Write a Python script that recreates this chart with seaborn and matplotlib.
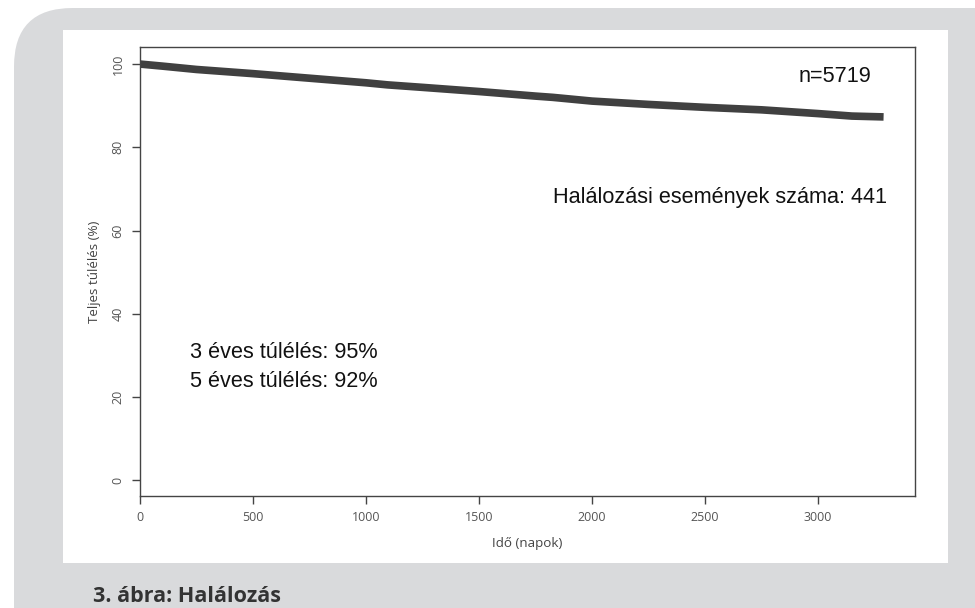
import numpy as np
import pandas as pd
import seaborn as sns
from matplotlib import pyplot as plt
from matplotlib.patches import FancyBboxPatch, Rectangle

# survival curve (days, overall survival %)
days = [0, 100, 250, 500, 750, 1000, 1095, 1250, 1500, 1750, 1826,
        2000, 2250, 2500, 2750, 3000, 3150, 3290]
surv = [100.0, 99.5, 98.7, 97.7, 96.6, 95.5, 95.0, 94.4, 93.4, 92.3, 92.0,
        91.1, 90.3, 89.6, 89.0, 88.1, 87.5, 87.3]
x_ticks = [0, 500, 1000, 1500, 2000, 2500, 3000]
y_ticks = [0, 20, 40, 60, 80, 100]

sns.set_style("white")
plt.rcParams['font.family'] = ['Open Sans', 'DejaVu Sans']

fig = plt.figure(figsize=(9.75, 6.08), dpi=100)
fig.patch.set_facecolor("white")
W, H = 975, 608

# grey frame with rounded top-left corner, white inner panel
fig.patches.append(FancyBboxPatch((14 / W, -0.1), 1.2, 1.1 - 8 / H,
                                  boxstyle="round,pad=0,rounding_size=0.06",
                                  transform=fig.transFigure, fc="#d9dadc", ec="none",
                                  mutation_aspect=W / H, zorder=0))
fig.patches.append(Rectangle((63 / W, 1 - 563 / H), (948 - 63) / W, (563 - 30) / H,
                             transform=fig.transFigure, fc="white", ec="none", zorder=1))

ax = fig.add_axes([140 / W, 1 - 496 / H, (915 - 140) / W, (496 - 47) / H])
ax.set_zorder(2)
ax.patch.set_alpha(0)

df = pd.DataFrame({"Idő": days, "Túlélés": surv})
sns.lineplot(data=df, x="Idő", y="Túlélés", ax=ax, color="#404040", lw=5.5,
             solid_capstyle="butt")
ax.plot([0, 60], [100, 100], color="#404040", lw=1)

ax.set_xlim(0, 3429)
ax.set_ylim(-3.8, 104.1)
ax.set_xticks(x_ticks)
ax.set_yticks(y_ticks)
ax.tick_params(axis="both", direction="out", length=6, width=1, color="#444444",
               labelsize=9, labelcolor="#555555", bottom=True, left=True, pad=5)
for lab in ax.get_yticklabels():
    lab.set_rotation(90)
    lab.set_va("center")
for s in ax.spines.values():
    s.set_color("#444444")
    s.set_linewidth(1)

ax.set_xlabel("Idő (napok)", fontsize=9.6, color="#444444", labelpad=9)
ax.set_ylabel("Teljes túlélés (%)", fontsize=9.6, color="#444444", labelpad=8)

ann = dict(fontsize=15.6, color="#111111", family=["Liberation Sans", "DejaVu Sans"], va="center")
ax.text(2912, 97.1, "n=5719", **ann)
ax.text(1827, 68.0, "Halálozási események száma: 441", **ann)
ax.text(221, 30.8, "3 éves túlélés: 95%", **ann)
ax.text(221, 23.8, "5 éves túlélés: 92%", **ann)

fig.text(93 / W, 1 - 596 / H, "3. ábra: Halálozás", fontsize=15.5, fontweight="bold",
         color="#333333", va="center", ha="left")

plt.savefig("out.png", dpi=100)
